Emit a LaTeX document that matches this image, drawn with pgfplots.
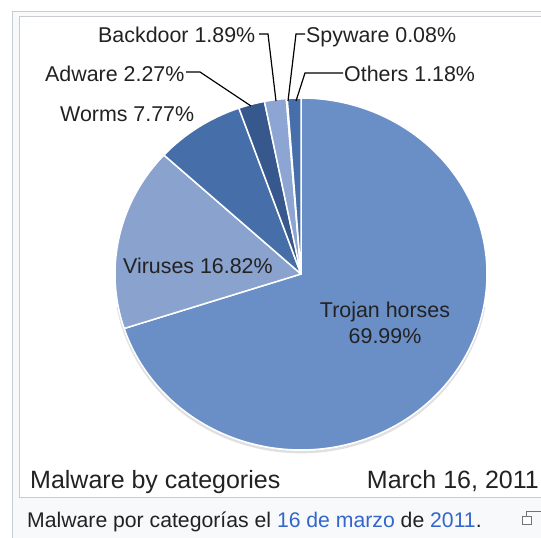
\documentclass[border=0pt]{standalone}
\usepackage{pgfplots}
\pgfplotsset{compat=1.18}
\usepackage{pgfplotstable}
\usepackage{fontspec}
\setmainfont{Liberation Sans}

\definecolor{trojan}{HTML}{6A8FC7}
\definecolor{viruses}{HTML}{8AA2CE}
\definecolor{worms}{HTML}{466EA8}
\definecolor{adware}{HTML}{36588C}
\definecolor{backdoor}{HTML}{8CA5D2}
\definecolor{spyware}{HTML}{B8C8E4}
\definecolor{others}{HTML}{466EAA}
\definecolor{frame}{HTML}{C8CCD1}
\definecolor{thumbbg}{HTML}{F8F9FA}
\definecolor{label}{HTML}{222222}
\definecolor{link}{HTML}{3366CC}

% share of each category, in percent, clockwise from 12 o'clock
\pgfplotstableread{
category pct colour
Trojan   69.99 trojan
Viruses  16.82 viruses
Worms     7.77 worms
Adware    2.27 adware
Backdoor  1.89 backdoor
Spyware   0.08 spyware
Others    1.18 others
}\malware

\begin{document}
\begin{tikzpicture}
\useasboundingbox (0,0) rectangle (541pt,538pt);
\fill[white] (0,0) rectangle (541pt,538pt);
\begin{scope}[shift={(0pt,538pt)}, x=1pt, y=-1pt]
  \filldraw[fill=thumbbg, draw=frame, line width=1pt] (12.5,11.5) rectangle (560,560);
  \filldraw[fill=white, draw=frame, line width=1pt] (19.5,16.5) rectangle (560,497.5);
\end{scope}

\begin{axis}[at={(0pt,0pt)}, anchor=south west,
  x=186pt, y=176pt,
  xmin=-1.61828, xmax=1.29032, ymin=-1.5, ymax=1.55682,
  hide axis, clip=false]
  % soft shadow under the pie
  \addplot[draw=black!12, line width=2.5pt, domain=190:350, samples=100] ({cos(x)},{sin(x)-0.012});
  \pgfplotstablegetrowsof{\malware}
  \pgfmathtruncatemacro\lastrow{\pgfplotsretval-1}
  \def\cum{90}
  \pgfplotsforeachungrouped \i in {0,...,\lastrow}{%
    \pgfplotstablegetelem{\i}{pct}\of\malware \let\slicepct\pgfplotsretval
    \pgfplotstablegetelem{\i}{colour}\of\malware \let\slicecol\pgfplotsretval
    \pgfmathsetmacro\sliceend{\cum-3.6*\slicepct}
    \edef\tmp{\noexpand\addplot[fill=\slicecol, draw=white, line width=1.5pt,
      line join=round, domain=\sliceend:\cum, samples=181]
      ({cos(x)},{sin(x)}) -- (axis cs:0,0) -- cycle;}
    \tmp
    \global\let\cum\sliceend
  }
\end{axis}

\begin{scope}[shift={(0pt,538pt)}, x=1pt, y=-1pt,
  every node/.style={inner sep=0pt, text=label},
  font=\fontsize{21.4}{25}\selectfont]
  \draw[label, line width=1.2pt] (259,34) -- (268,34) -- (276,101);
  \draw[label, line width=1.2pt] (305,34) -- (296,34) -- (288,101);
  \draw[label, line width=1.2pt] (343,73) -- (305,73) -- (296,101);
  \draw[label, line width=1.2pt] (186,72) -- (200,72) -- (251,106);
  \node[anchor=base west] at (98,43) {Backdoor 1.89\%};
  \node[anchor=base west] at (306,43) {Spyware 0.08\%};
  \node[anchor=base west] at (45,82) {Adware 2.27\%};
  \node[anchor=base west] at (344,82) {Others 1.18\%};
  \node[anchor=base west] at (60,122) {Worms 7.77\%};
  \node[anchor=base west] at (123,274) {Viruses 16.82\%};
  \node[anchor=base] at (385,318) {Trojan horses};
  \node[anchor=base] at (385,344) {69.99\%};
  \node[anchor=base west, font=\fontsize{25}{30}\selectfont] at (30,489) {Malware by categories};
  \node[anchor=base east, font=\fontsize{25}{30}\selectfont] at (539,489) {March 16, 2011};
  \node[anchor=base west, font=\fontsize{21.2}{25}\selectfont] at (27,528)
    {Malware por categorías el {\color{link}16 de marzo} de {\color{link}2011}.};
  % enlarge icon
  \draw[black!55, line width=1pt] (526,517) -- (526,512) -- (545,512);
  \draw[black!55, line width=1pt, fill=white] (522,517) rectangle (531,525);
\end{scope}
\end{tikzpicture}
\end{document}
